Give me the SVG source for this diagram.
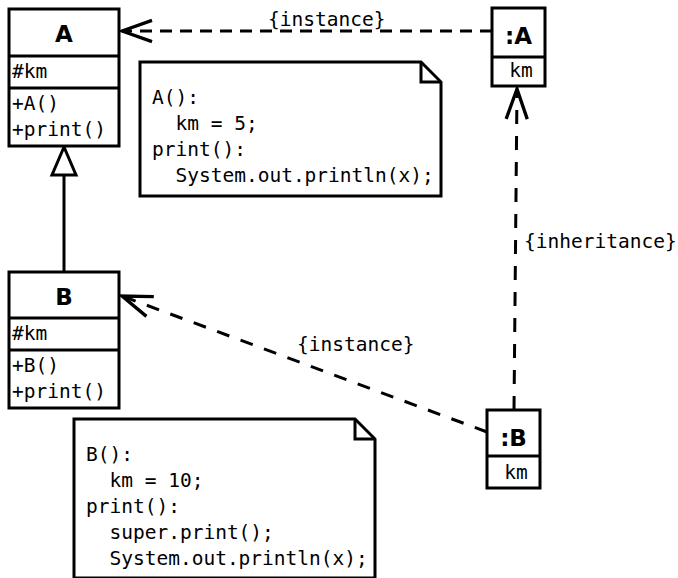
<svg xmlns="http://www.w3.org/2000/svg" width="678" height="578" viewBox="0 0 678 578">
<style>
.box{fill:#fff;stroke:#000;stroke-width:3}
.ln{fill:none;stroke:#000;stroke-width:3}
.dash{fill:none;stroke:#000;stroke-width:3;stroke-dasharray:12 8}
.mono{font-family:"DejaVu Sans Mono","Liberation Mono",monospace;font-size:19.5px;fill:#000;white-space:pre}
.name{font-family:"DejaVu Sans","Liberation Sans",sans-serif;font-weight:bold;font-size:23px;fill:#000;text-anchor:middle}
</style>
<defs>
<marker id="open" markerUnits="userSpaceOnUse" markerWidth="40" markerHeight="40" viewBox="-32 -16 36 32" refX="0" refY="0" orient="auto">
<path d="M -27,-9.5 L 0,0 L -27,9.5" fill="none" stroke="#000" stroke-width="3"/>
</marker>
</defs>
<rect width="678" height="578" fill="#fff"/>
<g id="connectors">
<path class="dash" d="M 492,31 L 122,31" marker-end="url(#open)"/>
<path class="dash" style="stroke-dasharray:14 12" d="M 514,410 L 517,89" marker-end="url(#open)"/>
<path class="dash" style="stroke-dasharray:13 12" d="M 487,432 L 122,296" marker-end="url(#open)"/>
<line class="ln" x1="64" y1="271" x2="64" y2="175"/>
<polygon class="box" points="64,147 52,175 76,175"/>
<text class="mono" x="268" y="26">{instance}</text>
<text class="mono" x="524" y="248">{inheritance}</text>
<text class="mono" x="297" y="351">{instance}</text>
</g>
<g id="classA">
<rect class="box" x="9" y="9" width="110" height="137"/>
<line class="ln" x1="9" y1="56" x2="119" y2="56"/>
<line class="ln" x1="9" y1="88" x2="119" y2="88"/>
<text class="name" x="64" y="42">A</text>
<text class="mono" x="12" y="78">#km</text>
<text class="mono" x="12" y="110">+A()</text>
<text class="mono" x="12" y="136">+print()</text>
</g>
<g id="classB">
<rect class="box" x="9" y="272" width="110" height="136"/>
<line class="ln" x1="9" y1="318" x2="119" y2="318"/>
<line class="ln" x1="9" y1="350" x2="119" y2="350"/>
<text class="name" x="64" y="305">B</text>
<text class="mono" x="12" y="340">#km</text>
<text class="mono" x="12" y="372">+B()</text>
<text class="mono" x="12" y="398">+print()</text>
</g>
<g id="objA">
<rect class="box" x="492" y="8" width="53" height="78"/>
<line class="ln" x1="492" y1="57" x2="545" y2="57"/>
<text class="name" x="518.5" y="44">:A</text>
<text class="mono" x="521" y="77" text-anchor="middle">km</text>
</g>
<g id="objB">
<rect class="box" x="487" y="410" width="53" height="78"/>
<line class="ln" x1="487" y1="456" x2="540" y2="456"/>
<text class="name" x="513.5" y="446">:B</text>
<text class="mono" x="516" y="479" text-anchor="middle">km</text>
</g>
<g id="noteA">
<path class="box" d="M 140,62 L 421,62 L 441,82 L 441,196 L 140,196 Z"/>
<path class="ln" d="M 421,62 L 421,82 L 441,82"/>
<text class="mono" x="152" y="104" xml:space="preserve">A():</text>
<text class="mono" x="152" y="130" xml:space="preserve">  km = 5;</text>
<text class="mono" x="152" y="156" xml:space="preserve">print():</text>
<text class="mono" x="152" y="182" xml:space="preserve">  System.out.println(x);</text>
</g>
<g id="noteB">
<path class="box" d="M 74,419 L 355,419 L 375,439 L 375,578 L 74,578 Z"/>
<path class="ln" d="M 355,419 L 355,439 L 375,439"/>
<text class="mono" x="86" y="461" xml:space="preserve">B():</text>
<text class="mono" x="86" y="487" xml:space="preserve">  km = 10;</text>
<text class="mono" x="86" y="513" xml:space="preserve">print():</text>
<text class="mono" x="86" y="539" xml:space="preserve">  super.print();</text>
<text class="mono" x="86" y="565" xml:space="preserve">  System.out.println(x);</text>
</g>
</svg>
